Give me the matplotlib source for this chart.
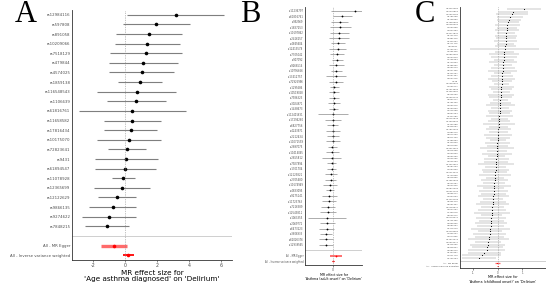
import numpy as np
import matplotlib
matplotlib.use("Agg")
import matplotlib.pyplot as plt

plt.rcParams['font.family'] = ['DejaVu Sans']

# Panel A: 'Age asthma diagnosed' on 'Delirium'
a_snps = ["rs12984116", "rs597808", "rs891058", "rs10209066", "rs7518129", "rs479844",
          "rs4574025", "rs1859138", "rs116548543", "rs1106639", "rs61816761", "rs11658582",
          "rs17816434", "rs10175070", "rs72823641", "rs9431", "rs61894547", "rs11078928",
          "rs12365699", "rs12122629", "rs9866135", "rs9274622", "rs7848215"]
a_b = [3.17, 1.96, 1.50, 1.40, 1.31, 1.15, 1.04, 0.94, 0.75, 0.71, 0.46, 0.46,
       0.35, 0.27, 0.13, 0.08, 0.02, -0.10, -0.19, -0.50, -0.77, -1.00, -1.13]
a_se = [1.55, 1.06, 1.04, 1.04, 1.14, 1.10, 1.03, 0.71, 1.26, 0.95, 1.71, 0.91,
        0.84, 1.02, 0.61, 1.01, 0.98, 0.36, 0.90, 0.60, 0.74, 0.86, 0.71]

summ_names = ["All - MR Egger", "All - Inverse variance weighted"]
a_summ_b = [-0.67, 0.21]
a_summ_se = [0.42, 0.17]

# Panel B: 'Asthma (adult onset)' on 'Delirium'
b_snps = ["rs11236797", "rs61816761", "rs992969", "rs1837253", "rs10197862", "rs2416257",
          "rs4845604", "rs12413578", "rs7705042", "rs907092", "rs9268516", "rs10795656",
          "rs13412757", "rs72925996", "rs1295686", "rs10519068", "rs7936323", "rs3024971",
          "rs1438673", "rs112401631", "rs17294280", "rs6827756", "rs4243971", "rs2212434",
          "rs11071559", "rs2897075", "rs10414065", "rs2855812", "rs7927894", "rs1701704",
          "rs12123821", "rs2305480", "rs10174949", "rs4833095", "rs9275141", "rs11723763",
          "rs7216389", "rs12543811", "rs1063355", "rs2069772", "rs6473223", "rs3806933",
          "rs62026376", "rs12939565"]
b_b = [0.55, 0.24, 0.175, 0.19, 0.16, 0.15, 0.13, 0.125, 0.11, 0.11, 0.09, 0.09,
       0.085, 0.07, 0.04, 0.025, 0.025, 0.025, 0.02, 0.01, 0.01, 0.0, 0.0, 0.0,
       0.0, -0.015, -0.015, -0.03, -0.03, -0.03, -0.05, -0.06, -0.065, -0.075, -0.09, -0.10,
       -0.115, -0.125, -0.14, -0.14, -0.16, -0.175, -0.18, -0.18]
b_se = [0.30, 0.12, 0.11, 0.13, 0.12, 0.13, 0.085, 0.11, 0.09, 0.07, 0.09, 0.07,
        0.13, 0.09, 0.06, 0.065, 0.06, 0.075, 0.06, 0.19, 0.10, 0.07, 0.085, 0.08,
        0.09, 0.06, 0.08, 0.12, 0.06, 0.06, 0.08, 0.07, 0.09, 0.05, 0.10, 0.09,
        0.09, 0.10, 0.245, 0.10, 0.09, 0.08, 0.09, 0.09]
b_summ_b = [0.07, 0.01]
b_summ_se = [0.075, 0.012]

# Panel C: 'Asthma (childhood onset)' on 'Delirium'
c_snps = ["rs34290285", "rs12470864", "rs72699186", "rs2786098", "rs4705950", "rs11950562",
          "rs10455025", "rs6563898", "rs7824993", "rs13277810",
          "rs4742170", "rs2381416", "rs1420101", "rs3771175", "rs950881", "rs6761047",
          "rs7255346", "rs10865050", "rs1004819", "rs6738964",
          "rs3749833", "rs2188962", "rs1059513", "rs2227306", "rs4129267", "rs7097397",
          "rs1504215", "rs848", "rs12050602", "rs6691577",
          "rs17513503", "rs11065987", "rs2248569", "rs12964116", "rs9303277", "rs4795400",
          "rs8069176", "rs2290400", "rs7216558", "rs3894194",
          "rs1444782", "rs10160518", "rs11603634", "rs7130588", "rs2325291", "rs17806299",
          "rs6881270", "rs2070600", "rs9372120", "rs7186463",
          "rs3122929", "rs4672505", "rs13024364", "rs1978968", "rs8032939", "rs2569190",
          "rs7626795", "rs1046163", "rs11096957", "rs2284033",
          "rs6554809", "rs12413410", "rs7720838", "rs3918396", "rs11687903", "rs4240157",
          "rs2523946", "rs10840293", "rs56062135", "rs1898671",
          "rs7937533", "rs11231128", "rs2305479", "rs3091307", "rs12188917", "rs1544791",
          "rs6462078", "rs9501572", "rs10798211", "rs4725396",
          "rs1866436", "rs2589561", "rs8176719", "rs13193386", "rs6906021", "rs7574865",
          "rs11646213", "rs10509477", "rs2418566", "rs4328821",
          "rs1689510", "rs3104367", "rs6011779", "rs7739264"]
c_b = [1.06, 0.63, 0.56, 0.49, 0.45, 0.42, 0.38, 0.37, 0.36, 0.34,
       0.34, 0.33, 0.32, 0.31, 0.30, 0.27, 0.26, 0.25, 0.24, 0.23,
       0.22, 0.21, 0.20, 0.19, 0.18, 0.17, 0.16, 0.16, 0.15, 0.14,
       0.13, 0.13, 0.12, 0.11, 0.10, 0.10, 0.09, 0.08, 0.08, 0.07,
       0.06, 0.05, 0.05, 0.04, 0.03, 0.02, 0.02, 0.01, 0.00, -0.01,
       -0.02, -0.03, -0.04, -0.04, -0.05, -0.06, -0.07, -0.08, -0.09, -0.10,
       -0.10, -0.11, -0.12, -0.13, -0.14, -0.15, -0.16, -0.17, -0.18, -0.18,
       -0.19, -0.20, -0.21, -0.22, -0.23, -0.24, -0.25, -0.26, -0.27, -0.28,
       -0.29, -0.30, -0.31, -0.33, -0.34, -0.36, -0.38, -0.40, -0.42, -0.44,
       -0.46, -0.56, -0.67, -0.77]
c_se = [0.35, 0.31, 0.33, 0.27, 0.24, 0.22, 0.26, 0.21, 0.25, 0.19,
        0.23, 0.20, 0.24, 0.18, 0.22, 0.72, 0.20, 0.31, 0.27, 0.21,
        0.29, 0.19, 0.25, 0.30, 0.17, 0.23, 0.28, 0.20, 0.16, 0.26,
        0.22, 0.18, 0.27, 0.24, 0.15, 0.21, 0.30, 0.19, 0.25, 0.22,
        0.28, 0.18, 0.23, 0.33, 0.20, 0.26, 0.19, 0.29, 0.24, 0.17,
        0.27, 0.22, 0.35, 0.20, 0.31, 0.18, 0.26, 0.24, 0.38, 0.21,
        0.29, 0.25, 0.33, 0.19, 0.28, 0.23, 0.36, 0.22, 0.30, 0.26,
        0.32, 0.20, 0.27, 0.34, 0.24, 0.29, 0.37, 0.22, 0.31, 0.26,
        0.33, 0.28, 0.40, 0.25, 0.35, 0.30, 0.43, 0.27, 0.36, 0.32,
        0.38, 0.34, 0.40, 0.36]
c_summ_b = [-0.02, -0.01]
c_summ_se = [0.05, 0.015]


def forest(ax, snps, b, se, sb, sse, xlim, ylim, xticks, lw, ms, fs_y, fs_x, xlabel, fs_lab, xpad):
    b = np.array(b)
    se = np.array(se)
    n = len(snps)
    y = np.arange(n)
    ax.hlines(y, b - 1.96 * se, b + 1.96 * se, color='#7f7f7f', lw=lw)
    ax.plot(b, y, 'o', color='black', ms=ms, mec='none')
    # summary rows
    sb = np.array(sb)
    sse = np.array(sse)
    ax.hlines(n + 1, sb[0] - 1.96 * sse[0], sb[0] + 1.96 * sse[0], color='#ff6b6b', lw=lw * 3)
    ax.hlines(n + 2, sb[1] - 1.96 * sse[1], sb[1] + 1.96 * sse[1], color='red', lw=lw * 1.6)
    ax.plot(sb, [n + 1, n + 2], 'o', color='red', ms=ms, mec='none')
    ax.axhline(n, color='#c8c8c8', lw=0.6)
    ax.axvline(0, color='#8a8a8a', ls=(0, (1, 1.5)), lw=0.5)
    ax.set_yticks(list(y) + [n + 1, n + 2])
    ax.set_yticklabels(snps + summ_names, fontsize=fs_y, color='#4d4d4d')
    ax.set_xticks(xticks)
    ax.set_xticklabels([str(t) for t in xticks], fontsize=fs_x, color='#4d4d4d')
    ax.set_xlim(xlim)
    ax.set_ylim(ylim)
    ax.tick_params(axis='y', length=0, pad=1.2)
    ax.tick_params(axis='x', length=1.5, width=0.4, pad=xpad, color='#333333')
    for s in ['top', 'right']:
        ax.spines[s].set_visible(False)
    for s in ['left', 'bottom']:
        ax.spines[s].set_linewidth(0.6)
        ax.spines[s].set_color('#333333')
    ax.set_xlabel(xlabel, fontsize=fs_lab, labelpad=xpad, linespacing=1.05)


fig = plt.figure(figsize=(5.46, 2.84), dpi=100)

ax_a = fig.add_axes([72 / 546, 24 / 284, 160 / 546, 250 / 284])
forest(ax_a, a_snps, a_b, a_se, a_summ_b, a_summ_se, (-3.31, 6.69), (25.5, -0.5),
       [-2, 0, 2, 4, 6], 0.8, 2.6, 2.8, 3.4,
       "MR effect size for\n'Age asthma diagnosed' on 'Delirium'", 5.2, 1)

ax_b = fig.add_axes([305 / 546, 19 / 284, 57 / 546, 258 / 284])
forest(ax_b, b_snps, b_b, b_se, b_summ_b, b_summ_se, (-0.7, 0.73), (46.7, -0.7),
       [0], 0.45, 1.3, 1.8, 2.2,
       "MR effect size for\n'Asthma (adult onset)' on 'Delirium'", 2.3, 0.8)

ax_c = fig.add_axes([460 / 546, 16 / 284, 86 / 546, 261 / 284])
forest(ax_c, c_snps, c_b, c_se, c_summ_b, c_summ_se, (-1.55, 1.96), (96.7, -0.7),
       [-1, 0, 1], 0.3, 0.8, 1.5, 1.9,
       "MR effect size for\n'Asthma (childhood onset)' on 'Delirium'", 2.4, 0.5)

for lab, x in [("A", 26), ("B", 250), ("C", 425)]:
    fig.text(x / 546, 1 - 14 / 284, lab, family='Liberation Serif', fontsize=22,
             ha='center', va='center')

fig.savefig("out.png", dpi=100)
